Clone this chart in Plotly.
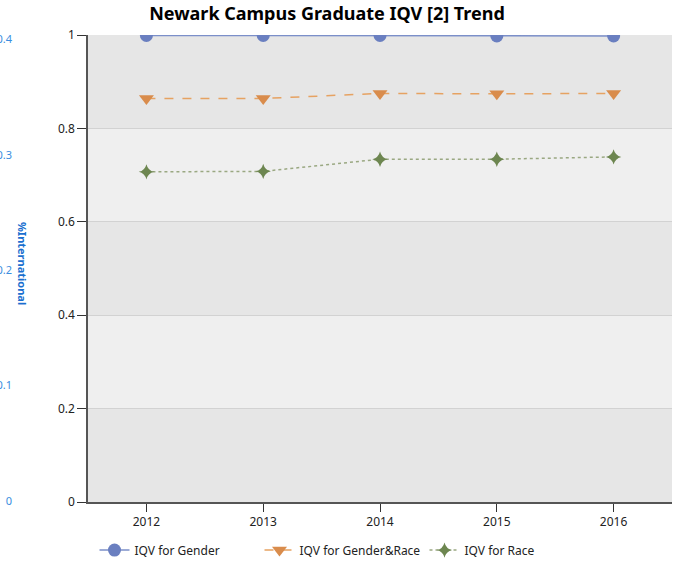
import plotly.graph_objects as go

years = [2012, 2013, 2014, 2015, 2016]
iqv_gender = [0.999, 0.999, 0.999, 0.998, 0.998]
iqv_gender_race = [0.864, 0.864, 0.875, 0.874, 0.875]
iqv_race = [0.707, 0.708, 0.734, 0.734, 0.739]
y_ticks = [0, 0.2, 0.4, 0.6, 0.8, 1]
y_tick_labels = ["0", "0.2", "0.4", "0.6", "0.8", "1"]
intl_ticks = [0, 0.1, 0.2, 0.3, 0.4]
intl_tick_labels = ["0", "0.1", "0.2", "0.3", "0.4"]

fig = go.Figure()

fig.add_trace(go.Scatter(
    x=years, y=iqv_gender, name="IQV for Gender", mode="lines+markers",
    line=dict(color="#7b8fc9", width=1.5),
    marker=dict(symbol="circle", size=13, color="#6a7fc0"),
))
fig.add_trace(go.Scatter(
    x=years, y=iqv_gender_race, name="IQV for Gender&Race", mode="lines+markers",
    line=dict(color="#e6a262", width=1.5, dash="dash"),
    marker=dict(symbol="triangle-down", size=13, color="#d98c4c"),
))
fig.add_trace(go.Scatter(
    x=years, y=iqv_race, name="IQV for Race", mode="lines+markers",
    line=dict(color="#9aa882", width=1.5, dash="dot"),
    marker=dict(symbol="star-diamond", size=11, color="#6d8650"),
))
# invisible trace to host the secondary (%International) axis
fig.add_trace(go.Scatter(x=[years[0]], y=[intl_ticks[0]], yaxis="y2",
                         mode="markers", marker=dict(opacity=0),
                         showlegend=False, hoverinfo="skip"))

# alternating background bands between y ticks
for i in range(len(y_ticks) - 1):
    if i % 2 == 0:
        fig.add_shape(type="rect", xref="x domain", yref="y",
                      x0=0, x1=1, y0=y_ticks[i], y1=y_ticks[i + 1],
                      fillcolor="#e6e6e6", line=dict(width=0), layer="below")

fig.update_layout(
    width=677, height=562,
    margin=dict(l=12, r=5, t=35, b=60, autoexpand=False),
    paper_bgcolor="white",
    plot_bgcolor="#efefef",
    font=dict(family="Noto Sans", size=12, color="#222"),
    title=dict(text="<b>Newark Campus Graduate IQV [2] Trend</b>",
               x=0.483, xanchor="center", y=0.975, yanchor="middle",
               font=dict(family="Noto Sans", size=18, color="black")),
    xaxis=dict(domain=[0.1152, 1], range=[2011.5, 2016.5],
               tickvals=years, ticktext=[str(y) for y in years],
               showgrid=False, zeroline=False, automargin=False,
               showline=True, linecolor="#555", linewidth=2,
               ticks="outside", ticklen=8, tickcolor="#333",
               tickfont=dict(size=12, color="#222")),
    yaxis=dict(range=[0, 1], tickvals=y_ticks, ticktext=y_tick_labels,
               showgrid=True, gridcolor="#d2d2d2", gridwidth=1,
               zeroline=False, showline=True, linecolor="#555", linewidth=1.5,
               ticks="outside", ticklen=9, tickcolor="#333", automargin=False,
               tickfont=dict(size=12, color="#222")),
    yaxis2=dict(overlaying="y", side="left", anchor="free", position=0,
                range=[-0.001, 0.404], tickvals=intl_ticks,
                ticktext=intl_tick_labels, automargin=False,
                showgrid=False, zeroline=False, showline=False,
                ticks="", ticklabelstandoff=0,
                tickfont=dict(size=11, color="#3a8ee0")),
    legend=dict(orientation="h", x=0.125, xanchor="left", y=-0.103,
                yanchor="middle", font=dict(size=12, color="#222"),
                entrywidthmode="pixels", entrywidth=120,
                bgcolor="rgba(0,0,0,0)"),
    showlegend=True,
)

fig.add_annotation(text="<b>%International</b>", xref="paper", yref="paper",
                   x=0.015, y=0.51, xanchor="center", yanchor="middle",
                   textangle=90, showarrow=False,
                   font=dict(size=11, color="#1a6fcf"))

fig.write_html("out.html", config={"displayModeBar": False},
               post_script="document.body.style.margin='0';")
